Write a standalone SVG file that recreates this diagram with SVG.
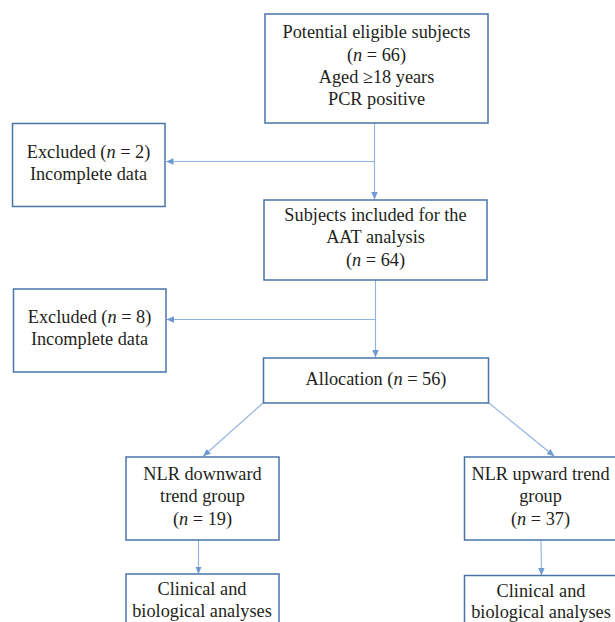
<svg xmlns="http://www.w3.org/2000/svg" width="615" height="622" viewBox="0 0 615 622">
<defs>
<style>
.box{fill:#ffffff;stroke:#4a74a8;stroke-width:1.5}
.t{font-family:"Liberation Serif","Times New Roman",serif;font-size:18.3px;fill:#231f20;text-anchor:middle}
.c{fill:none;stroke:#8fb2de;stroke-width:1.1}
</style>
<marker id="ah" markerWidth="8" markerHeight="8" refX="7" refY="4" orient="auto" markerUnits="userSpaceOnUse">
<path d="M0,0.8 L7.5,4 L0,7.2 Z" fill="#6d9ad3"/>
</marker>
</defs>
<rect width="615" height="622" fill="#ffffff"/>
<g id="connectors">
<path class="c" d="M374.5,123 V199" marker-end="url(#ah)"/>
<path class="c" d="M374.5,161.5 H166.5" marker-end="url(#ah)"/>
<path class="c" d="M375.5,280 V357" marker-end="url(#ah)"/>
<path class="c" d="M375.5,319.5 H167" marker-end="url(#ah)"/>
<path class="c" d="M263,403 L203.5,456" marker-end="url(#ah)"/>
<path class="c" d="M489,403 L554,456" marker-end="url(#ah)"/>
<path class="c" d="M198.5,540 V573.5" marker-end="url(#ah)"/>
<path class="c" d="M541,540 L541.5,575" marker-end="url(#ah)"/>
</g>
<g id="node-potential">
<rect class="box" x="265" y="14" width="223" height="109"/>
<text class="t" x="376.5" y="38">Potential eligible subjects</text>
<text class="t" x="376.5" y="61">(<tspan font-style="italic">n</tspan> = 66)</text>
<text class="t" x="376.5" y="83">Aged ≥18 years</text>
<text class="t" x="376.5" y="105">PCR positive</text>
</g>
<g id="node-excluded1">
<rect class="box" x="12.5" y="123.5" width="152.5" height="83"/>
<text class="t" x="88.5" y="158">Excluded (<tspan font-style="italic">n</tspan> = 2)</text>
<text class="t" x="88.5" y="180">Incomplete data</text>
</g>
<g id="node-included">
<rect class="box" x="264" y="200" width="223" height="80"/>
<text class="t" x="375.5" y="221">Subjects included for the</text>
<text class="t" x="375.5" y="243">AAT analysis</text>
<text class="t" x="375.5" y="266">(<tspan font-style="italic">n</tspan> = 64)</text>
</g>
<g id="node-excluded2">
<rect class="box" x="13.5" y="289" width="152.5" height="83"/>
<text class="t" x="89.5" y="323">Excluded (<tspan font-style="italic">n</tspan> = 8)</text>
<text class="t" x="89.5" y="345">Incomplete data</text>
</g>
<g id="node-allocation">
<rect class="box" x="263.5" y="358" width="225" height="45"/>
<text class="t" x="376" y="385">Allocation (<tspan font-style="italic">n</tspan> = 56)</text>
</g>
<g id="node-down">
<rect class="box" x="126" y="457" width="153" height="83"/>
<text class="t" x="202.5" y="480">NLR downward</text>
<text class="t" x="202.5" y="502">trend group</text>
<text class="t" x="202.5" y="525">(<tspan font-style="italic">n</tspan> = 19)</text>
</g>
<g id="node-up">
<rect class="box" x="464.5" y="457" width="152" height="83"/>
<text class="t" x="540.5" y="480">NLR upward trend</text>
<text class="t" x="540.5" y="502">group</text>
<text class="t" x="540.5" y="525">(<tspan font-style="italic">n</tspan> = 37)</text>
</g>
<g id="node-clinical1">
<rect class="box" x="126" y="574" width="153" height="60"/>
<text class="t" x="202" y="595">Clinical and</text>
<text class="t" x="202" y="617">biological analyses</text>
</g>
<g id="node-clinical2">
<rect class="box" x="464.5" y="575.5" width="152" height="60"/>
<text class="t" x="541" y="597">Clinical and</text>
<text class="t" x="541" y="618">biological analyses</text>
</g>
</svg>
